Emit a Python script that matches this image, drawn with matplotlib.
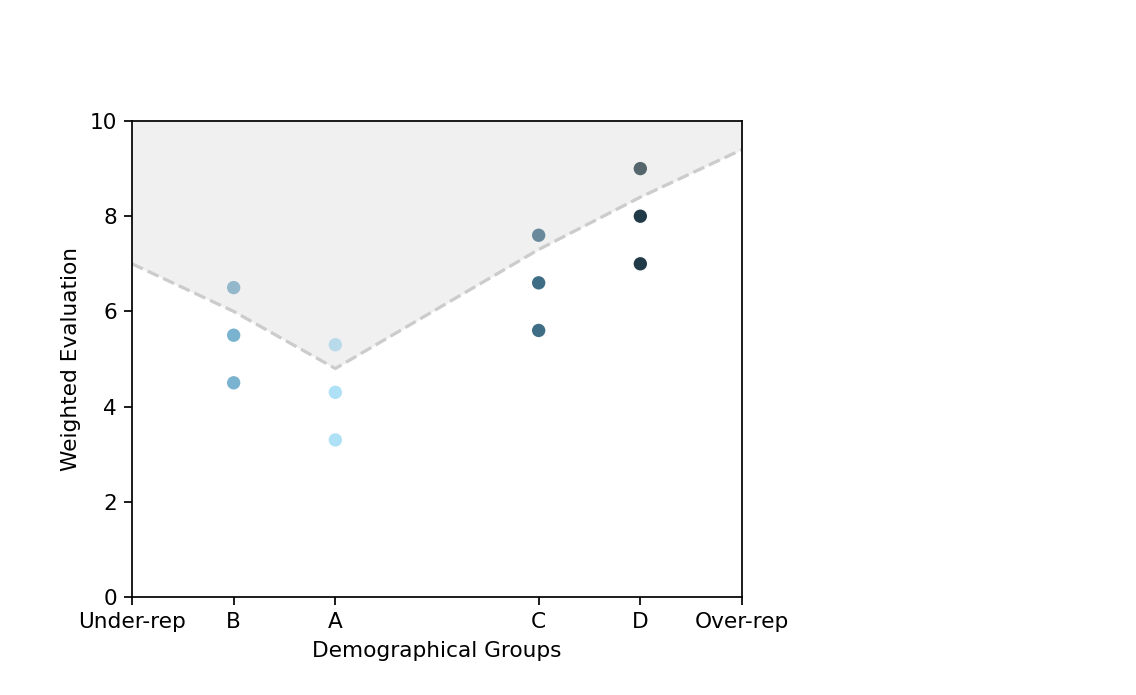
import matplotlib
matplotlib.use("Agg")
import matplotlib.pyplot as plt

# Data
tick_pos = [0, 1, 2, 4, 5, 6]
tick_labels = ["Under-rep", "B", "A", "C", "D", "Over-rep"]

group_x = [1, 2, 4, 5]
group_names = ["B", "A", "C", "D"]
scores_top = [6.5, 5.3, 7.6, 9.0]
scores_mid = [5.5, 4.3, 6.6, 8.0]
scores_low = [4.5, 3.3, 5.6, 7.0]
colors_top = ["#93b8cb", "#b9daeb", "#6a8a9c", "#56666d"]
colors_main = ["#7ab3cf", "#aee0f6", "#3f6d85", "#213a47"]

boundary_x = [0, 1, 2, 4, 5, 6]
boundary_y = [7.0, 6.0, 4.8, 7.3, 8.4, 9.4]

DPI = 156
fig = plt.figure(figsize=(1136 / DPI, 695 / DPI), dpi=DPI)
ax = fig.add_axes([132 / 1136, 98 / 695, 610 / 1136, 476 / 695])

ax.fill_between(boundary_x, boundary_y, 10, color="#f0f0f0", zorder=0, linewidth=0)
ax.plot(boundary_x, boundary_y, linestyle="--", color="#cccccc", linewidth=1.5, zorder=1)

ax.scatter(group_x, scores_top, c=colors_top, s=38, zorder=3, linewidths=0)
ax.scatter(group_x, scores_mid, c=colors_main, s=38, zorder=3, linewidths=0)
ax.scatter(group_x, scores_low, c=colors_main, s=38, zorder=3, linewidths=0)

ax.set_xlim(0, 6)
ax.set_ylim(0, 10)
ax.set_xticks(tick_pos)
ax.set_xticklabels(tick_labels)
ax.set_yticks([0, 2, 4, 6, 8, 10])
ax.set_xlabel("Demographical Groups")
ax.set_ylabel("Weighted Evaluation")

fig.savefig("out.png", dpi=DPI)
